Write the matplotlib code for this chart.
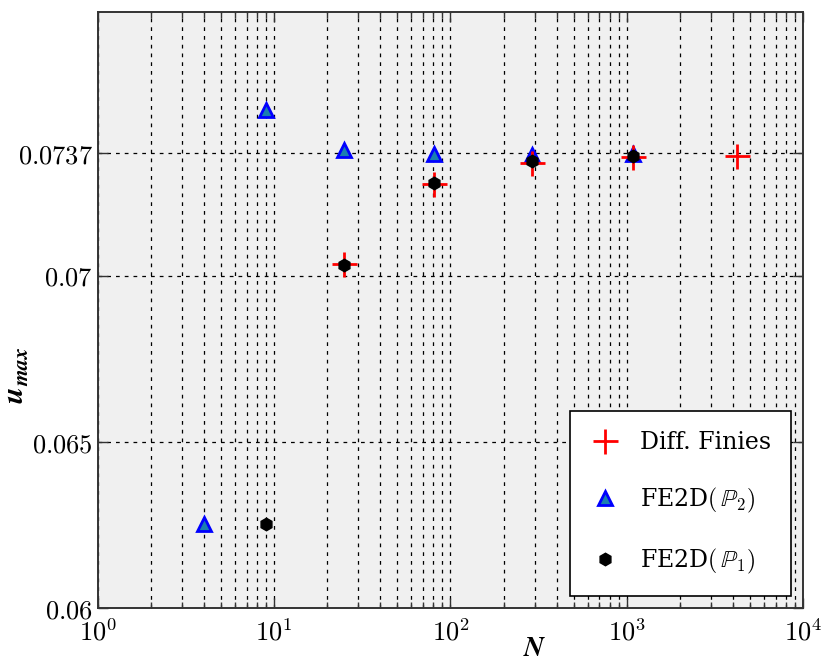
import matplotlib
matplotlib.use("Agg")
import matplotlib.pyplot as plt
from matplotlib.ticker import FixedLocator, LogLocator, NullFormatter

plt.rcParams["mathtext.fontset"] = "cm"
plt.rcParams["font.family"] = "DejaVu Serif"

# ── data ─────────────────────────────────────────────────────────────────────
n_fd = [25, 81, 289, 1089, 4225]
u_fd = [0.07035, 0.07278, 0.07340, 0.07357, 0.07360]

n_p2 = [4, 9, 25, 81, 289, 1089]
u_p2 = [0.06253, 0.07500, 0.07378, 0.07368, 0.07365, 0.07368]

n_p1 = [9, 25, 81, 289, 1089]
u_p1 = [0.06253, 0.07033, 0.07280, 0.07345, 0.07360]

y_ticks = [0.06, 0.065, 0.07, 0.0737]
y_labels = ["0.06", "0.065", "0.07", "0.0737"]
x_ticks = [1, 10, 100, 1000, 10000]
x_labels = [r"$10^{0}$", r"$10^{1}$", r"$10^{2}$", r"$10^{3}$", r"$10^{4}$"]

# ── figure ───────────────────────────────────────────────────────────────────
fig = plt.figure(figsize=(8.22, 6.61), dpi=100)
ax = fig.add_axes([0.119, 0.080, 0.858, 0.902])
ax.set_facecolor("#f0f0f0")

ax.plot(n_fd, u_fd, linestyle="none", marker="+", markersize=18,
        markeredgewidth=2, color="red", label="Diff. Finies", zorder=4)
ax.plot(n_p2, u_p2, linestyle="none", marker="^", markersize=10,
        markeredgewidth=2, markeredgecolor="blue", markerfacecolor="#1a7fb0",
        label=r"FE2D$(\,\mathbb{P}_2)$", zorder=3)
ax.plot(n_p1, u_p1, linestyle="none", marker="h", markersize=9,
        color="black", label=r"FE2D$(\,\mathbb{P}_1)$", zorder=5)

ax.set_xscale("log")
ax.set_xlim(1, 1e4)
ax.set_ylim(0.06, 0.07795)

ax.xaxis.set_major_locator(FixedLocator(x_ticks))
ax.set_xticklabels(x_labels)
ax.xaxis.set_minor_locator(LogLocator(base=10, subs=range(2, 10)))
ax.xaxis.set_minor_formatter(NullFormatter())
ax.set_yticks(y_ticks)
ax.set_yticklabels([r"$%s$" % s for s in y_labels])

ax.grid(True, which="major", axis="both", color="black", linestyle=(0, (3, 4)), linewidth=0.9)
ax.grid(True, which="minor", axis="x", color="black", linestyle=(0, (3, 4)), linewidth=0.9)
ax.set_axisbelow(True)

ax.tick_params(which="both", direction="in", top=True, right=True, colors="#333333",
               labelcolor="black", labelsize=19)
ax.tick_params(which="major", length=7, width=1)
ax.tick_params(which="minor", length=4, width=1)
ax.tick_params(axis="x", pad=8)
for spine in ax.spines.values():
    spine.set_color("#333333")
    spine.set_linewidth(1.4)

ax.set_xlabel(r"$\mathbfit{N}$", fontsize=20)
ax.xaxis.set_label_coords(0.62, -0.045)
ax.set_ylabel(r"$\mathbfit{u}_{\mathbfit{max}}$", fontsize=22)
ax.yaxis.set_label_coords(-0.095, 0.39)

leg = ax.legend(loc="lower right", fontsize=17, frameon=True, fancybox=False,
                edgecolor="black", framealpha=1, labelspacing=1.35,
                borderpad=0.85, handlelength=1.2, handletextpad=0.9,
                borderaxespad=0.5)
leg.get_frame().set_linewidth(1.2)

fig.savefig("out.png", dpi=100, facecolor="white")
